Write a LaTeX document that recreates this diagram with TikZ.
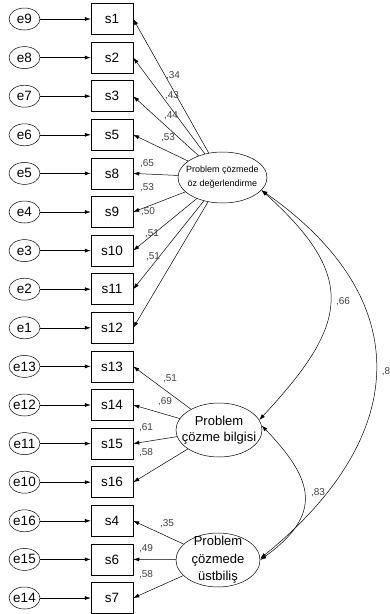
\documentclass[tikz,border=0pt]{standalone}
\usepackage{fontspec}
\setmainfont{Liberation Sans}
\usetikzlibrary{positioning,shapes.geometric,arrows.meta}

\begin{document}
\begin{tikzpicture}[x = 1pt, y = 1pt, node distance = {38.6pt}, line width = 0.5pt,
    >={Latex[length=6pt,width=4pt]},
    err/.style = {draw, ellipse, minimum width = 31pt, minimum height = 22pt, inner xsep = -2pt, inner ysep = 0pt, font = \fontsize{13.5}{15}\selectfont},
    obs/.style = {draw, rectangle, minimum width = 42pt, minimum height = 31pt, inner sep = 0pt, font = \fontsize{13.5}{15}\selectfont},
    latent/.style = {draw, ellipse, inner xsep = -8pt, inner ysep = -6pt, align = center},
    coef/.style = {text = black!75, inner sep = 0pt, font = \fontsize{10}{11}\selectfont}]
    \useasboundingbox (0, 0) rectangle (390, -614);

    \node[err](e9) at (24.5, -19) {e9};
    \node[err](e8) [below of = e9] {e8};
    \node[err](e7) [below of = e8] {e7};
    \node[err](e6) [below of = e7] {e6};
    \node[err](e5) [below of = e6] {e5};
    \node[err](e4) [below of = e5] {e4};
    \node[err](e3) [below of = e4] {e3};
    \node[err](e2) [below of = e3] {e2};
    \node[err](e1) [below of = e2] {e1};
    \node[err](e13) [below of = e1] {e13};
    \node[err](e12) [below of = e13] {e12};
    \node[err](e11) [below of = e12] {e11};
    \node[err](e10) [below of = e11] {e10};
    \node[err](e16) [below of = e10] {e16};
    \node[err](e15) [below of = e16] {e15};
    \node[err](e14) [below of = e15] {e14};

    \node[obs](s1) at (112, -19) {s1};
    \node[obs](s2) [below of = s1] {s2};
    \node[obs](s3) [below of = s2] {s3};
    \node[obs](s5) [below of = s3] {s5};
    \node[obs](s8) [below of = s5] {s8};
    \node[obs](s9) [below of = s8] {s9};
    \node[obs](s10) [below of = s9] {s10};
    \node[obs](s11) [below of = s10] {s11};
    \node[obs](s12) [below of = s11] {s12};
    \node[obs](s13) [below of = s12] {s13};
    \node[obs](s14) [below of = s13] {s14};
    \node[obs](s15) [below of = s14] {s15};
    \node[obs](s16) [below of = s15] {s16};
    \node[obs](s4) [below of = s16] {s4};
    \node[obs](s6) [below of = s4] {s6};
    \node[obs](s7) [below of = s6] {s7};

    \node[latent, minimum width = 89pt, minimum height = 51pt, font = \fontsize{9}{14}\selectfont](ozd) at (222.5, -177.5) {Problem çözmede\\öz değerlendirme};
    \node[latent, minimum width = 86pt, minimum height = 54pt, font = \fontsize{13}{16}\selectfont](bilgi) at (219, -430) {Problem\\çözme bilgisi};
    \node[latent, minimum width = 84pt, minimum height = 54pt, font = \fontsize{13}{17.5}\selectfont](ustb) at (218, -560) {Problem\\çözmede\\üstbiliş};

    \draw[->](e9) -- (s1);
    \draw[->](e8) -- (s2);
    \draw[->](e7) -- (s3);
    \draw[->](e6) -- (s5);
    \draw[->](e5) -- (s8);
    \draw[->](e4) -- (s9);
    \draw[->](e3) -- (s10);
    \draw[->](e2) -- (s11);
    \draw[->](e1) -- (s12);
    \draw[->](e13) -- (s13);
    \draw[->](e12) -- (s14);
    \draw[->](e11) -- (s15);
    \draw[->](e10) -- (s16);
    \draw[->](e16) -- (s4);
    \draw[->](e15) -- (s6);
    \draw[->](e14) -- (s7);

    \draw[->](ozd) -- (s1.east);
    \draw[->](ozd) -- (s2.east);
    \draw[->](ozd) -- (s3.east);
    \draw[->](ozd) -- (s5.east);
    \draw[->](ozd) -- (s8.east);
    \draw[->](ozd) -- (s9.east);
    \draw[->](ozd) -- (s10.east);
    \draw[->](ozd) -- (s11.east);
    \draw[->](ozd) -- (s12.east);

    \draw[->](bilgi) -- (s13.east);
    \draw[->](bilgi) -- (s14.east);
    \draw[->](bilgi) -- (s15.east);
    \draw[->](bilgi) -- (s16.east);

    \draw[->](ustb) -- (s4.east);
    \draw[->](ustb) -- (s6.east);
    \draw[->](ustb) -- (s7.east);

    \draw[<->](ozd.-18) to[out = -42, in = 47, looseness = 1.45] (bilgi.14);
    \draw[<->](ozd.-18) to[out = -35, in = 39, looseness = 1.33] (ustb.2);
    \draw[<->](bilgi.6) to[out = -46, in = 36, looseness = 1.46] (ustb.0);

    \node[coef](w1) at (173, -76) {,34};
    \node[coef](w2) at (172, -96) {,43};
    \node[coef](w3) at (171, -116) {,44};
    \node[coef](w5) at (168, -138) {,53};
    \node[coef](w8) at (147, -164) {,65};
    \node[coef](w9) at (147, -188) {,53};
    \node[coef](w10) at (148, -212) {,50};
    \node[coef](w11) at (152, -234) {,51};
    \node[coef](w12) at (153, -257) {,51};

    \node[coef](w13) at (170, -379) {,51};
    \node[coef](w14) at (165, -402) {,69};
    \node[coef](w15) at (146, -428) {,61};
    \node[coef](w16) at (146, -453) {,58};

    \node[coef](w4) at (167, -524) {,35};
    \node[coef](w6) at (146, -549) {,49};
    \node[coef](w7) at (146, -575) {,58};

    \node[coef](r1) at (343, -302) {,66};
    \node[coef](r2) at (386, -372) {,8};
    \node[coef](r3) at (318, -493) {,83};
\end{tikzpicture}
\end{document}
